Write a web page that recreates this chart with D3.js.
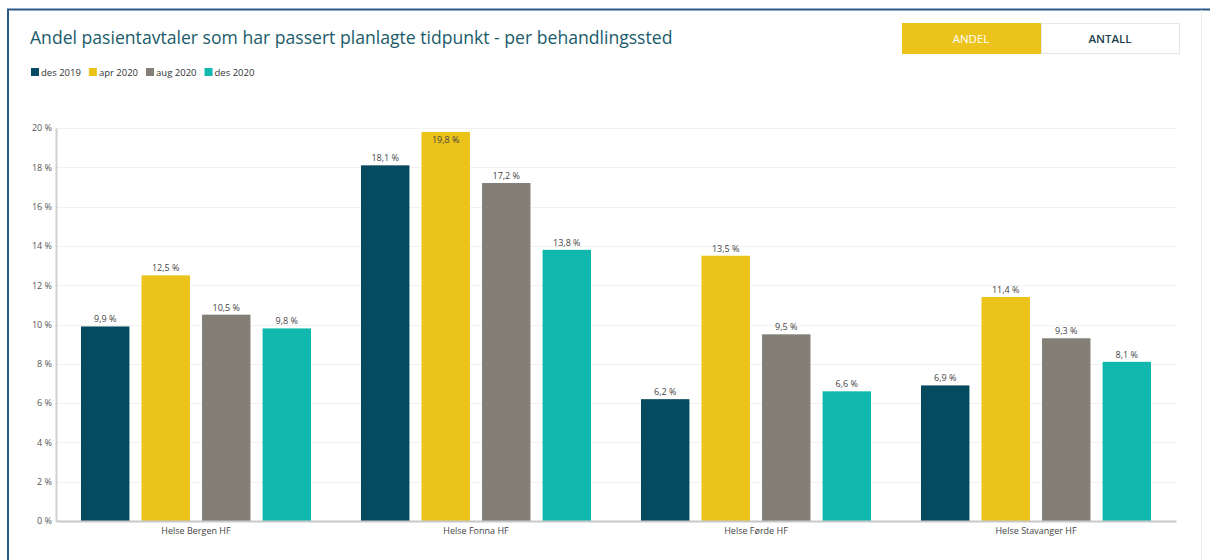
<!doctype html>
<html lang="nb">
  <head>
    <meta charset="UTF-8" />
    <title>Andel pasientavtaler som har passert planlagte tidpunkt</title>
    <script src="https://d3js.org/d3.v7.min.js"></script>
    <style>
      body {
        margin: 0;
        padding: 0;
        background: #fff;
        font-family: "Open Sans", "Noto Sans", sans-serif;
      }
      svg {
        display: block;
      }
    </style>
  </head>
  <body>
    <script>
      const categories = ["Helse Bergen HF", "Helse Fonna HF", "Helse Førde HF", "Helse Stavanger HF"];
      const seriesNames = ["des 2019", "apr 2020", "aug 2020", "des 2020"];
      const seriesColors = ["#054a5e", "#ecc31a", "#837e76", "#10b8ae"];
      const des2019 = [9.9, 18.1, 6.2, 6.9];
      const apr2020 = [12.5, 19.8, 13.5, 11.4];
      const aug2020 = [10.5, 17.2, 9.5, 9.3];
      const des2020 = [9.8, 13.8, 6.6, 8.1];
      const yTicks = [0, 2, 4, 6, 8, 10, 12, 14, 16, 18, 20];

      const seriesValues = [des2019, apr2020, aug2020, des2020];

      const width = 1210;
      const height = 560;
      const margin = { left: 56, right: 34, top: 128, bottom: 39 };

      const svg = d3.select("body").append("svg").attr("width", width).attr("height", height);

      // frame
      svg.append("line").attr("x1", 7).attr("x2", width).attr("y1", 9.5).attr("y2", 9.5)
        .attr("stroke", "#2b5a8a").attr("stroke-width", 2);
      svg.append("line").attr("x1", 8).attr("x2", 8).attr("y1", 9).attr("y2", height)
        .attr("stroke", "#2b5a8a").attr("stroke-width", 2);
      svg.append("line").attr("x1", 1201.5).attr("x2", 1201.5).attr("y1", 10).attr("y2", height)
        .attr("stroke", "#eeeeee").attr("stroke-width", 1);

      svg.append("text")
        .attr("x", 30).attr("y", 44)
        .attr("fill", "#1b5b6b")
        .style("font-size", "17.6px")
        .text("Andel pasientavtaler som har passert planlagte tidpunkt - per behandlingssted");

      // toggle buttons
      svg.append("rect").attr("x", 902).attr("y", 23).attr("width", 139).attr("height", 31).attr("fill", "#ecc31a");
      svg.append("rect").attr("x", 1041.5).attr("y", 23.5).attr("width", 138).attr("height", 30)
        .attr("fill", "#fff").attr("stroke", "#e6e6e6");
      svg.append("text").attr("x", 971).attr("y", 43).attr("text-anchor", "middle")
        .attr("fill", "#fff").style("font-size", "11.5px").text("ANDEL");
      svg.append("text").attr("x", 1110).attr("y", 43).attr("text-anchor", "middle")
        .attr("fill", "#1d3f4f").style("font-size", "11.5px").style("font-weight", 600).text("ANTALL");

      // legend
      const legend = svg.append("g").attr("transform", "translate(31,68)");
      let lx = 0;
      seriesNames.forEach((name, i) => {
        const g = legend.append("g").attr("transform", `translate(${lx},0)`);
        g.append("rect").attr("width", 8).attr("height", 8).attr("fill", seriesColors[i]);
        const t = g.append("text").attr("x", 10).attr("y", 7.5)
          .attr("fill", "#333").style("font-size", "9.5px").text(name);
        lx += 10 + t.node().getComputedTextLength() + 8;
      });

      const x0 = d3.scaleBand().domain(categories)
        .range([margin.left, width - margin.right]).paddingInner(0).paddingOuter(0);
      const x1 = d3.scaleBand().domain(seriesNames)
        .range([25, x0.bandwidth() - 25]).paddingInner(0.2).paddingOuter(0);
      const y = d3.scaleLinear().domain([0, 20]).range([height - margin.bottom, margin.top]);

      // gridlines
      svg.append("g").selectAll("line").data(yTicks.slice(1)).join("line")
        .attr("x1", margin.left).attr("x2", width - margin.right)
        .attr("y1", (d) => Math.round(y(d)) + 0.5).attr("y2", (d) => Math.round(y(d)) + 0.5)
        .attr("stroke", "#f1f1f1");

      // y axis
      const yAxis = svg.append("g").attr("transform", `translate(${margin.left},0)`)
        .call(d3.axisLeft(y).tickValues(yTicks).tickSize(0).tickPadding(4).tickFormat((d) => d + " %"));
      yAxis.select(".domain").attr("stroke", "#d0d0d0").attr("stroke-width", 2);
      yAxis.selectAll("text").attr("fill", "#555").style("font-size", "9px").style("font-family", "'Open Sans', sans-serif");

      // bars
      const groups = svg.append("g").selectAll("g").data(categories).join("g")
        .attr("transform", (d) => `translate(${x0(d)},0)`);

      groups.selectAll("rect")
        .data((d, ci) => seriesNames.map((s, si) => ({ s, si, v: seriesValues[si][ci] })))
        .join("rect")
        .attr("x", (d) => x1(d.s))
        .attr("width", x1.bandwidth())
        .attr("y", (d) => y(d.v))
        .attr("height", (d) => y(0) - y(d.v))
        .attr("fill", (d) => seriesColors[d.si]);

      const fmt = (v) => v.toFixed(1).replace(".", ",") + " %";
      groups.selectAll("text")
        .data((d, ci) => seriesNames.map((s, si) => ({ s, si, v: seriesValues[si][ci] })))
        .join("text")
        .attr("x", (d) => x1(d.s) + x1.bandwidth() / 2)
        .attr("y", (d) => (y(d.v) - 16 < margin.top - 4 ? y(d.v) + 11 : y(d.v) - 4))
        .attr("text-anchor", "middle")
        .attr("fill", "#444")
        .style("font-size", "9px")
        .text((d) => fmt(d.v));

      // x axis
      const xAxis = svg.append("g").attr("transform", `translate(0,${height - margin.bottom})`)
        .call(d3.axisBottom(x0).tickSize(0).tickPadding(7));
      xAxis.select(".domain").attr("stroke", "#c8c8c8").attr("stroke-width", 2);
      xAxis.selectAll("text").attr("fill", "#444").style("font-size", "9px").style("font-family", "'Open Sans', sans-serif");
    </script>
  </body>
</html>
